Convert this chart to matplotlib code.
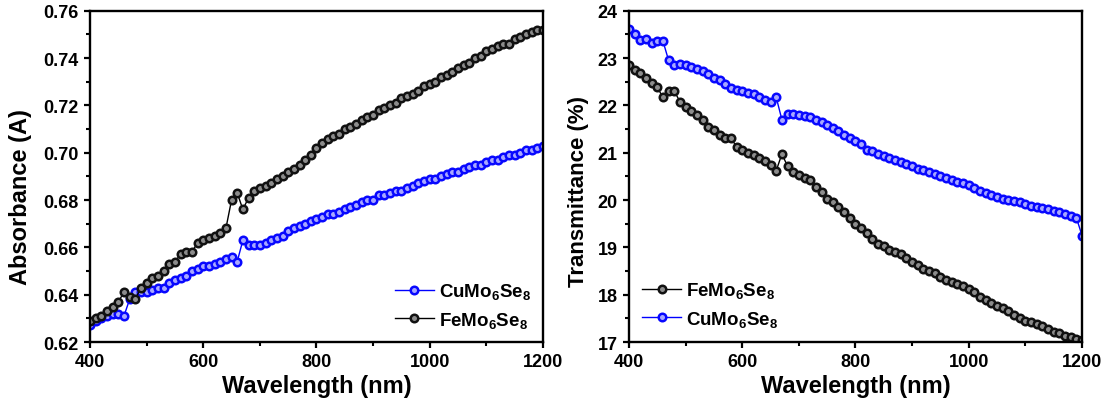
import numpy as np
import matplotlib
matplotlib.use('Agg')
import matplotlib.pyplot as plt
from matplotlib.ticker import MultipleLocator

plt.rcParams['font.family'] = ['Liberation Sans', 'DejaVu Sans']
plt.rcParams['font.weight'] = 'bold'
plt.rcParams['mathtext.fontset'] = 'custom'
plt.rcParams['mathtext.rm'] = 'Liberation Sans:bold'
plt.rcParams['mathtext.it'] = 'Liberation Sans:bold'
plt.rcParams['mathtext.bf'] = 'Liberation Sans:bold'

# wavelength grid, 10 nm steps
wavelength = np.arange(400, 1201, 10)

# absorbance (A)
abs_fe = [0.629, 0.630, 0.631, 0.633, 0.635, 0.637, 0.641, 0.639, 0.638, 0.643,
          0.645, 0.647, 0.648, 0.650, 0.653, 0.654, 0.657, 0.658, 0.658, 0.662,
          0.663, 0.664, 0.665, 0.666, 0.668, 0.680, 0.683, 0.676, 0.681, 0.684,
          0.685, 0.686, 0.687, 0.689, 0.690, 0.692, 0.693, 0.695, 0.697, 0.699,
          0.702, 0.704, 0.706, 0.707, 0.708, 0.710, 0.711, 0.712, 0.714, 0.715,
          0.716, 0.718, 0.719, 0.720, 0.721, 0.723, 0.724, 0.725, 0.726, 0.728,
          0.729, 0.730, 0.732, 0.733, 0.734, 0.736, 0.737, 0.738, 0.740, 0.741,
          0.743, 0.744, 0.745, 0.746, 0.746, 0.748, 0.749, 0.750, 0.751, 0.752,
          0.752]
abs_cu = [0.627, 0.629, 0.630, 0.631, 0.632, 0.632, 0.631, 0.638, 0.641, 0.641,
          0.641, 0.642, 0.643, 0.643, 0.645, 0.646, 0.647, 0.648, 0.650, 0.651,
          0.652, 0.652, 0.653, 0.654, 0.655, 0.656, 0.654, 0.663, 0.661, 0.661,
          0.661, 0.662, 0.663, 0.664, 0.665, 0.667, 0.668, 0.669, 0.670, 0.671,
          0.672, 0.673, 0.674, 0.674, 0.675, 0.676, 0.677, 0.678, 0.679, 0.680,
          0.680, 0.682, 0.682, 0.683, 0.684, 0.684, 0.685, 0.686, 0.687, 0.688,
          0.689, 0.689, 0.690, 0.691, 0.692, 0.692, 0.693, 0.694, 0.695, 0.695,
          0.696, 0.697, 0.697, 0.698, 0.699, 0.699, 0.700, 0.701, 0.701, 0.702,
          0.703]

# transmittance (%)
tr_fe = [22.85, 22.75, 22.68, 22.58, 22.48, 22.38, 22.17, 22.30, 22.30, 22.08,
         21.97, 21.88, 21.80, 21.70, 21.55, 21.47, 21.37, 21.32, 21.32, 21.12,
         21.05, 21.00, 20.95, 20.88, 20.82, 20.75, 20.62, 20.97, 20.72, 20.60,
         20.52, 20.47, 20.42, 20.27, 20.17, 20.03, 19.95, 19.85, 19.75, 19.62,
         19.50, 19.40, 19.30, 19.18, 19.08, 19.02, 18.95, 18.90, 18.85, 18.78,
         18.70, 18.62, 18.55, 18.50, 18.45, 18.38, 18.32, 18.27, 18.22, 18.18,
         18.12, 18.05, 17.95, 17.88, 17.82, 17.77, 17.72, 17.65, 17.57, 17.50,
         17.45, 17.42, 17.38, 17.33, 17.27, 17.22, 17.18, 17.13, 17.10, 17.07,
         17.04]
tr_cu = [23.62, 23.50, 23.38, 23.40, 23.32, 23.35, 23.36, 22.95, 22.85, 22.88,
         22.85, 22.82, 22.76, 22.73, 22.66, 22.58, 22.53, 22.46, 22.37, 22.32,
         22.30, 22.26, 22.23, 22.18, 22.12, 22.07, 22.17, 21.70, 21.82, 21.82,
         21.80, 21.78, 21.75, 21.70, 21.65, 21.58, 21.52, 21.45, 21.38, 21.32,
         21.25, 21.18, 21.06, 21.03, 20.97, 20.93, 20.88, 20.84, 20.80, 20.76,
         20.71, 20.66, 20.63, 20.60, 20.55, 20.51, 20.47, 20.42, 20.38, 20.35,
         20.31, 20.26, 20.20, 20.15, 20.10, 20.07, 20.03, 20.00, 19.98, 19.95,
         19.92, 19.88, 19.86, 19.83, 19.80, 19.77, 19.74, 19.70, 19.66, 19.63,
         19.25]

lbl_cu = r'CuMo$_6$Se$_8$'
lbl_fe = r'FeMo$_6$Se$_8$'

black_style = dict(color='black', lw=1.0, marker='o', ms=5.4, mec='#111111',
                   mfc='#8c8c8c', mew=1.8)
blue_style = dict(color='#0000ff', lw=1.0, marker='o', ms=5.4, mec='#0808ff',
                  mfc='#a8a8ff', mew=1.8)

fig = plt.figure(figsize=(11.15, 4.10), dpi=100)
ax1 = fig.add_axes([0.0807, 0.1634, 0.4063, 0.808])
ax2 = fig.add_axes([0.5641, 0.1634, 0.4063, 0.808])


def style_axes(ax):
    for sp in ax.spines.values():
        sp.set_linewidth(1.7)
    ax.tick_params(which='major', direction='out', length=4.5, width=1.6,
                   pad=3.5, labelsize=13, top=False, right=False)
    ax.tick_params(which='minor', direction='out', length=3.2, width=1.5,
                   top=False, right=False)
    ax.xaxis.set_major_locator(MultipleLocator(200))
    ax.xaxis.set_minor_locator(MultipleLocator(100))
    ax.set_xlim(400, 1200)
    ax.set_xlabel('Wavelength (nm)', fontsize=17, fontweight='bold')
    ax.xaxis.set_label_coords(0.5, -0.097)


# absorbance panel
ax1.plot(wavelength, abs_cu, label=lbl_cu, **blue_style)
ax1.plot(wavelength, abs_fe, label=lbl_fe, **black_style)
style_axes(ax1)
ax1.set_ylim(0.62, 0.76)
ax1.yaxis.set_major_locator(MultipleLocator(0.02))
ax1.yaxis.set_minor_locator(MultipleLocator(0.01))
ax1.yaxis.set_major_formatter(plt.FormatStrFormatter('%.2f'))
ax1.set_ylabel('Absorbance (A)', fontsize=17, fontweight='bold')
ax1.yaxis.set_label_coords(-0.128, 0.44)
ax1.legend(loc='lower right', frameon=False, handlelength=2.1,
           handletextpad=0.25, labelspacing=0.45, borderaxespad=0.25,
           prop={'weight': 'bold', 'size': 13.5})

# transmittance panel
ax2.plot(wavelength, tr_fe, label=lbl_fe, **black_style)
ax2.plot(wavelength, tr_cu, label=lbl_cu, **blue_style)
style_axes(ax2)
ax2.set_ylim(17, 24)
ax2.yaxis.set_major_locator(MultipleLocator(1))
ax2.yaxis.set_minor_locator(MultipleLocator(0.5))
ax2.set_ylabel('Transmittance (%)', fontsize=16, fontweight='bold')
ax2.yaxis.set_label_coords(-0.088, 0.457)
ax2.legend(loc='lower left', frameon=False, handlelength=2.1,
           handletextpad=0.25, labelspacing=0.45, borderaxespad=0.3,
           prop={'weight': 'bold', 'size': 13.5})

for ax in (ax1, ax2):
    for t in ax.get_xticklabels() + ax.get_yticklabels():
        t.set_fontweight('bold')

fig.savefig('out.png', dpi=100)
